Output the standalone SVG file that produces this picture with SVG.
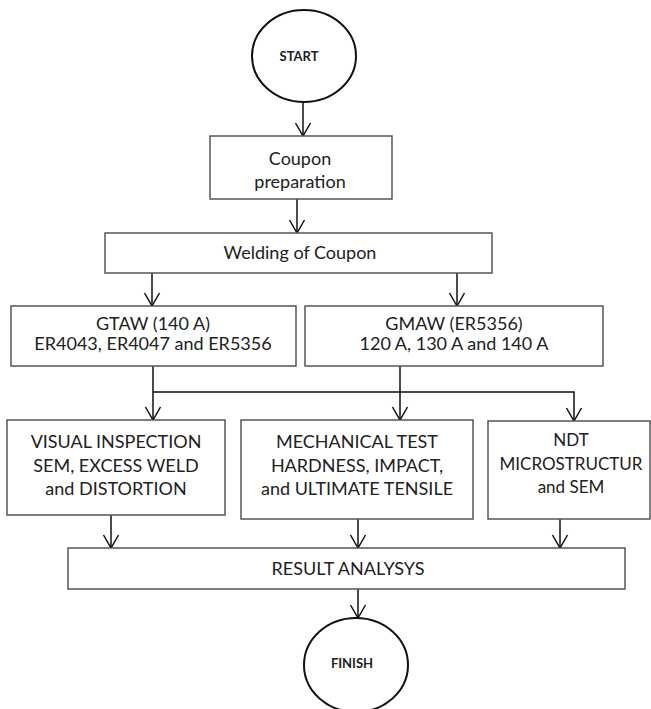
<svg xmlns="http://www.w3.org/2000/svg" width="651" height="709" viewBox="0 0 651 709">
<defs>
<style>
.box{fill:#fff;stroke:#555;stroke-width:1.5}
.circ{fill:#fff;stroke:#111;stroke-width:2}
.t{font-family:Lato,"Liberation Sans",sans-serif;font-size:18px;fill:#222;text-anchor:middle}
.ts{font-family:Lato,"Liberation Sans",sans-serif;font-size:17px;fill:#222;text-anchor:middle}
.tb{font-family:Lato,"Liberation Sans",sans-serif;font-size:13px;font-weight:bold;fill:#222;text-anchor:middle}
.c{fill:none;stroke:#111;stroke-width:1.5}
</style>
<marker id="arr" markerUnits="userSpaceOnUse" viewBox="-15 -9 17 18" markerWidth="17" markerHeight="18" refX="0" refY="0" orient="auto" overflow="visible">
<path d="M-13,-7.5 L0,0 L-13,7.5" fill="none" stroke="#111" stroke-width="1.5"/>
</marker>
</defs>
<rect width="651" height="709" fill="#fff"/>
<g id="connectors">
<line class="c" x1="303" y1="103" x2="303" y2="136" marker-end="url(#arr)"/>
<line class="c" x1="297" y1="199" x2="297" y2="233" marker-end="url(#arr)"/>
<line class="c" x1="152" y1="273" x2="152" y2="306" marker-end="url(#arr)"/>
<line class="c" x1="457" y1="273" x2="457" y2="306" marker-end="url(#arr)"/>
<line class="c" x1="153" y1="366" x2="153" y2="420" marker-end="url(#arr)"/>
<line class="c" x1="400" y1="366" x2="400" y2="420" marker-end="url(#arr)"/>
<polyline class="c" points="153,392 574,392 574,421" marker-end="url(#arr)"/>
<line class="c" x1="111" y1="515" x2="111" y2="548" marker-end="url(#arr)"/>
<line class="c" x1="358" y1="519" x2="358" y2="548" marker-end="url(#arr)"/>
<line class="c" x1="560" y1="519" x2="560" y2="548" marker-end="url(#arr)"/>
<line class="c" x1="358" y1="589" x2="358" y2="618" marker-end="url(#arr)"/>
</g>
<g id="start">
<ellipse class="circ" cx="304" cy="56" rx="52" ry="46"/>
<text class="tb" x="299" y="61">START</text>
</g>
<g id="coupon">
<rect class="box" x="210" y="136" width="182" height="63"/>
<text class="t" x="300" y="165">Coupon</text>
<text class="t" x="300" y="188">preparation</text>
</g>
<g id="welding">
<rect class="box" x="105" y="233" width="387" height="40"/>
<text class="t" x="300" y="259">Welding of Coupon</text>
</g>
<g id="gtaw">
<rect class="box" x="11" y="306" width="285" height="60"/>
<text class="t" x="153" y="330">GTAW (140 A)</text>
<text class="t" x="153" y="350">ER4043, ER4047 and ER5356</text>
</g>
<g id="gmaw">
<rect class="box" x="305" y="306" width="298" height="60"/>
<text class="t" x="454" y="330">GMAW (ER5356)</text>
<text class="t" x="454" y="350">120 A, 130 A and 140 A</text>
</g>
<g id="visual">
<rect class="box" x="7" y="420" width="218" height="95"/>
<text class="t" x="116" y="448">VISUAL INSPECTION</text>
<text class="t" x="116" y="472">SEM, EXCESS WELD</text>
<text class="t" x="116" y="495">and DISTORTION</text>
</g>
<g id="mechanical">
<rect class="box" x="241" y="420" width="232" height="99"/>
<text class="t" x="357" y="448">MECHANICAL TEST</text>
<text class="t" x="357" y="472">HARDNESS, IMPACT,</text>
<text class="t" x="357" y="495">and ULTIMATE TENSILE</text>
</g>
<g id="ndt">
<rect class="box" x="488" y="421" width="162" height="98"/>
<text class="ts" x="571" y="446">NDT</text>
<text class="ts" x="571" y="470">MICROSTRUCTUR</text>
<text class="ts" x="571" y="493">and SEM</text>
</g>
<g id="result">
<rect class="box" x="68" y="548" width="557" height="41"/>
<text class="t" x="348" y="575">RESULT ANALYSYS</text>
</g>
<g id="finish">
<ellipse class="circ" cx="356" cy="665" rx="52" ry="47"/>
<text class="tb" x="352" y="668">FINISH</text>
</g>
</svg>
